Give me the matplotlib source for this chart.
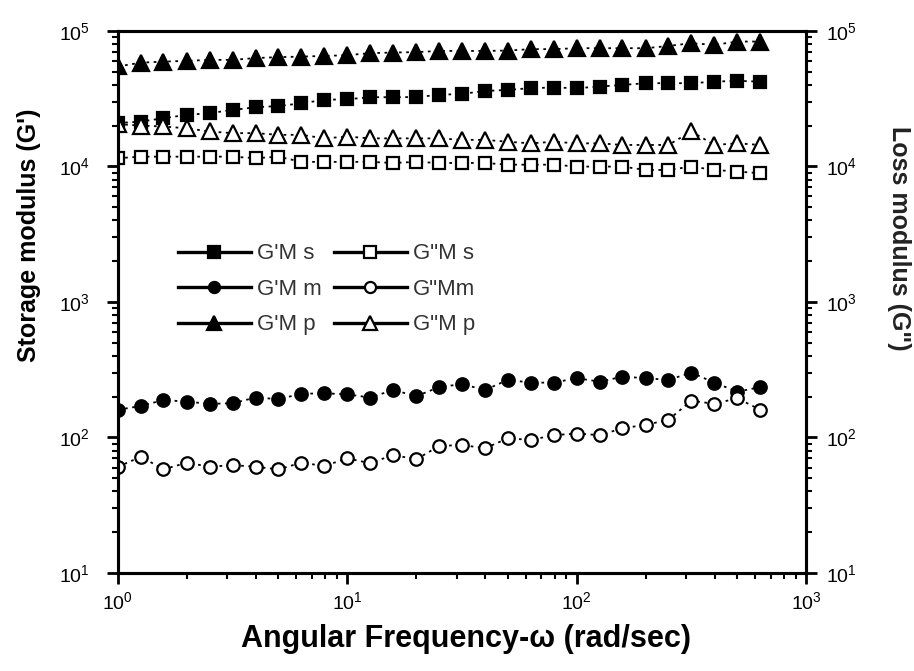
import matplotlib
matplotlib.use("Agg")
import matplotlib.pyplot as plt
from matplotlib.lines import Line2D
from matplotlib.ticker import LogLocator, NullFormatter

plt.rcParams['font.family'] = ['Liberation Sans', 'DejaVu Sans']
plt.rcParams['mathtext.fontset'] = 'custom'
plt.rcParams['mathtext.rm'] = 'Liberation Sans:bold'
plt.rcParams['mathtext.bf'] = 'Liberation Sans:bold'
plt.rcParams['mathtext.it'] = 'Liberation Sans:bold'

omega = [1.0, 1.26, 1.58, 2.0, 2.51, 3.16, 3.98, 5.01, 6.31, 7.94,
         10, 12.6, 15.8, 20, 25.1, 31.6, 39.8, 50.1, 63.1, 79.4,
         100, 126, 158, 200, 251, 316, 398, 501, 631]

Gp_Ms = [20900, 21400, 22700, 24000, 24700, 26100, 27300, 27900, 29200, 31000,
         31300, 32400, 32400, 32500, 33700, 34300, 36000, 36700, 37800, 38200,
         37800, 38800, 39900, 41100, 41100, 41100, 42200, 42800, 42200]
Gpp_Ms = [11500, 11800, 11800, 11800, 11800, 11800, 11500, 11800, 10800, 10800,
          10800, 10800, 10600, 10800, 10600, 10600, 10600, 10300, 10300, 10300,
          9970, 9970, 9970, 9420, 9420, 9970, 9420, 9160, 8910]
Gp_Mm = [160, 171, 189, 184, 177, 179, 197, 192, 210, 212,
         208, 197, 224, 202, 235, 248, 224, 266, 254, 254,
         274, 258, 281, 274, 266, 301, 254, 218, 235]
Gpp_Mm = [60.8, 72.1, 58.2, 65.2, 60.8, 62.6, 60.8, 58.2, 65.2, 61.6,
          70.2, 64.5, 74.3, 69.0, 86.5, 88.1, 83.2, 98.6, 95.9, 104,
          107, 104, 117, 124, 135, 187, 177, 195, 160]
Gp_Mp = [54600, 58300, 59300, 60100, 61100, 61100, 63000, 64000, 64600, 65300,
         66200, 68500, 69200, 69700, 71100, 71100, 71100, 71600, 73300, 73300,
         74500, 74500, 74500, 74500, 77400, 81100, 78800, 83400, 83400]
Gpp_Mp = [20500, 20000, 19700, 19100, 18100, 17600, 17600, 17100, 17100, 16100,
          16600, 16100, 16100, 16100, 16100, 15700, 15700, 15200, 14800, 15200,
          14800, 14800, 14400, 14400, 14400, 18100, 14400, 14800, 14400]

labels = ["G'M s", "G\"M s", "G'M m", "G\"Mm", "G'M p", "G\"M p"]

fig = plt.figure(figsize=(9.14, 6.71), dpi=100)
ax = fig.add_axes([0.129, 0.146, 0.753, 0.808])

series = [
    (Gp_Ms, 's', 'black', 9),
    (Gpp_Ms, 's', 'white', 9),
    (Gp_Mm, 'o', 'black', 9),
    (Gpp_Mm, 'o', 'white', 9),
    (Gp_Mp, '^', 'black', 11),
    (Gpp_Mp, '^', 'white', 11),
]
for vals, m, fc, ms in series:
    ax.plot(omega, vals, linestyle=(0, (1.5, 2.5)), color='black', linewidth=1.3,
            marker=m, markerfacecolor=fc, markeredgecolor='black',
            markeredgewidth=1.6, markersize=ms)

ax.set_xscale('log')
ax.set_yscale('log')
ax.set_xlim(1, 1000)
ax.set_ylim(10, 1e5)

for sp in ax.spines.values():
    sp.set_linewidth(2.2)

ax.xaxis.set_major_locator(LogLocator(base=10, numticks=10))
ax.xaxis.set_minor_locator(LogLocator(base=10, subs=range(2, 10), numticks=10))
ax.xaxis.set_minor_formatter(NullFormatter())
ax.yaxis.set_minor_locator(LogLocator(base=10, subs=range(2, 10), numticks=10))
ax.yaxis.set_minor_formatter(NullFormatter())
ax.tick_params(which='major', direction='out', length=8, width=2, labelsize=14,
               top=False, right=False)
ax.tick_params(axis='y', which='major', pad=12)
ax.tick_params(axis='x', which='major', pad=5)
ax.tick_params(which='minor', direction='out', length=4, width=1.5,
               top=False, right=False)

ax2 = ax.twinx()
ax2.set_yscale('log')
ax2.set_ylim(10, 1e5)
ax2.yaxis.set_minor_locator(LogLocator(base=10, subs=range(2, 10), numticks=10))
ax2.yaxis.set_minor_formatter(NullFormatter())
ax2.tick_params(which='major', direction='out', length=8, width=2, labelsize=14, pad=6)
ax2.tick_params(which='minor', direction='out', length=4, width=1.5)
for sp in ax2.spines.values():
    sp.set_linewidth(2.2)

fig.text(466 / 914, 1 - 639 / 671, 'Angular Frequency-\u03c9 (rad/sec)',
         fontsize=22, fontweight='bold', ha='center', va='center')
fig.text(29 / 914, 1 - 235 / 671, "Storage modulus (G')", fontsize=18,
         fontweight='bold', rotation=90, ha='center', va='center')
fig.text(899 / 914, 1 - 238 / 671, 'Loss modulus (G")', fontsize=18,
         fontweight='bold', rotation=270, ha='center', va='center', color='#222222')

handles = []
order = [0, 2, 4, 1, 3, 5]
for i in order:
    vals, m, fc, ms = series[i]
    handles.append(Line2D([], [], color='black', linewidth=2.4, marker=m,
                          markerfacecolor=fc, markeredgecolor='black',
                          markeredgewidth=1.6, markersize=ms - 1))
leg = ax.legend(handles, [labels[i] for i in order], ncol=2, frameon=False,
                loc='upper left', bbox_to_anchor=(0.087, 0.608), fontsize=16,
                handlelength=3.3, handletextpad=0.25, columnspacing=0.55,
                labelspacing=0.65, borderaxespad=0, borderpad=0)
for t in leg.get_texts():
    t.set_color('#333333')

fig.savefig('out.png', dpi=100)
